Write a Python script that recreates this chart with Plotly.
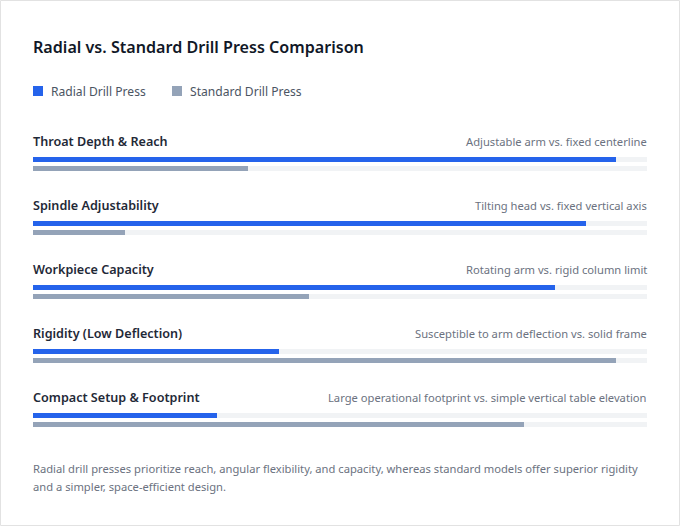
import plotly.graph_objects as go

categories = ["Throat Depth & Reach", "Spindle Adjustability", "Workpiece Capacity",
              "Rigidity (Low Deflection)", "Compact Setup & Footprint"]
descriptions = ["Adjustable arm vs. fixed centerline",
                "Tilting head vs. fixed vertical axis",
                "Rotating arm vs. rigid column limit",
                "Susceptible to arm deflection vs. solid frame",
                "Large operational footprint vs. simple vertical table elevation"]
series_names = ["Radial Drill Press", "Standard Drill Press"]
radial = [95, 90, 85, 40, 30]
standard = [35, 15, 45, 95, 80]
max_value = 100

title_text = "Radial vs. Standard Drill Press Comparison"
footer_lines = ["Radial drill presses prioritize reach, angular flexibility, and capacity, whereas standard models offer superior rigidity",
                "and a simpler, space-efficient design."]

W, H = 680, 526
LEFT, RIGHT = 33, 647
PAD = 2
FONT = "Noto Sans"
BLUE = "#2563eb"
GRAY = "#94a3b8"
TRACK = "#f1f3f5"

row0, row_gap = 141, 64
label_y = [row0 + i * row_gap for i in range(len(categories))]
blue_y = [y + 18.5 for y in label_y]
gray_y = [y + 27.5 for y in label_y]

fig = go.Figure()
fig.add_trace(go.Bar(orientation="h", x=[max_value] * len(categories), y=blue_y, width=5,
                     marker=dict(color=TRACK, line=dict(width=0)), hoverinfo="skip", showlegend=False))
fig.add_trace(go.Bar(orientation="h", x=[max_value] * len(categories), y=gray_y, width=5,
                     marker=dict(color=TRACK, line=dict(width=0)), hoverinfo="skip", showlegend=False))
fig.add_trace(go.Bar(orientation="h", x=radial, y=blue_y, width=5, name=series_names[0],
                     marker=dict(color=BLUE, line=dict(width=0)), showlegend=False))
fig.add_trace(go.Bar(orientation="h", x=standard, y=gray_y, width=5, name=series_names[1],
                     marker=dict(color=GRAY, line=dict(width=0)), showlegend=False))

annotations = []
shapes = []
# card border
shapes.append(dict(type="rect", xref="paper", yref="paper", x0=0.5 / W, x1=1 - 0.5 / W, y0=0.5 / H, y1=1 - 0.5 / H,
                   line=dict(color="#e2e2e2", width=1), fillcolor="rgba(0,0,0,0)", layer="below"))
# title
annotations.append(dict(text=title_text, xref="paper", yref="y", x=(LEFT - PAD) / W, y=47, xanchor="left",
                        yanchor="middle", showarrow=False,
                        font=dict(family=FONT, size=16.1, color="#111827", weight=600)))
# legend
legend_x = [33, 172]
for name, color, lx in zip(series_names, [BLUE, GRAY], legend_x):
    shapes.append(dict(type="rect", xref="paper", yref="y", x0=lx / W, x1=(lx + 10) / W, y0=86, y1=96,
                       fillcolor=color, line=dict(width=0)))
    annotations.append(dict(text=name, xref="paper", yref="y", x=(lx + 18 - PAD) / W, y=91, xanchor="left",
                            yanchor="middle", showarrow=False, font=dict(family=FONT, size=12.1, color="#4b5563")))
# rows
for cat, desc, ly in zip(categories, descriptions, label_y):
    annotations.append(dict(text=cat, xref="paper", yref="y", x=(LEFT - PAD) / W, y=ly, xanchor="left",
                            yanchor="middle", showarrow=False,
                            font=dict(family=FONT, size=12.6, color="#1f2937", weight=600)))
    annotations.append(dict(text=desc, xref="paper", yref="y", x=(RIGHT + PAD) / W, y=ly, xanchor="right",
                            yanchor="middle", showarrow=False, font=dict(family=FONT, size=11.2, color="#6b7280")))
# footer
for i, line in enumerate(footer_lines):
    annotations.append(dict(text=line, xref="paper", yref="y", x=(LEFT - PAD) / W, y=468 + 18 * i, xanchor="left",
                            yanchor="middle", showarrow=False, font=dict(family=FONT, size=11.2, color="#6b7280")))

fig.update_layout(
    width=W, height=H, margin=dict(l=0, r=0, t=0, b=0),
    paper_bgcolor="white", plot_bgcolor="white",
    barmode="overlay", bargap=0,
    xaxis=dict(range=[0, max_value], domain=[LEFT / W, RIGHT / W], visible=False, fixedrange=True),
    yaxis=dict(range=[H, 0], domain=[0, 1], visible=False, fixedrange=True),
    annotations=annotations, shapes=shapes, showlegend=False,
)
fig.write_html("out.html", post_script="document.body.style.margin='0';document.body.style.overflow='hidden';",
               config={"displayModeBar": False})
